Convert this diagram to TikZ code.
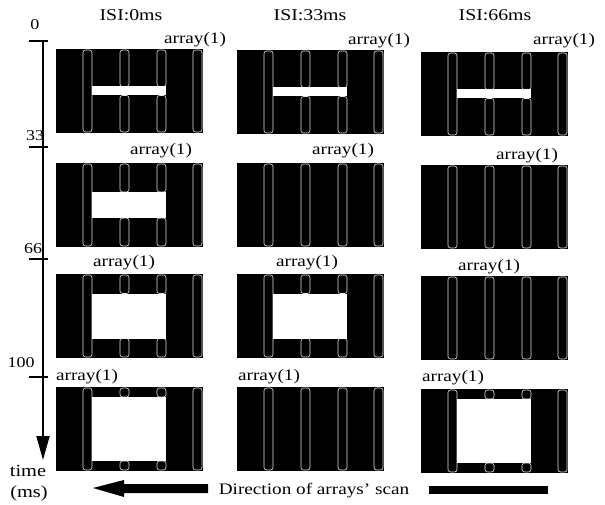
\documentclass[tikz,border=0pt]{standalone}
\usepackage{fontspec}
\setmainfont[FakeStretch=1.2]{Liberation Serif}
\usetikzlibrary{arrows.meta}
\tikzset{
  capsule/.style={draw=white!80!gray, line width=0.6pt, rounded corners=2.5pt},
  lbl/.style={font=\fontsize{16}{18}\selectfont, inner sep=0pt},
  hdr/.style={font=\fontsize{16.5}{19}\selectfont, inner sep=0pt},
  num/.style={font=\fontsize{15}{17}\selectfont, inner sep=0pt},
  axisline/.style={line width=1.8pt},
  tickline/.style={line width=1.2pt},
}
\newcommand\arraypanel[3]{% #1 x left, #2 y top, #3 slot height (0 = none)
  \begin{scope}[shift={(#1,#2)}]
    \fill[black] (0,0) rectangle (147,84);
    \draw[capsule] (27,1) rectangle (36,83);
    \draw[capsule] (137,1) rectangle (146,83);
    \ifdim #3pt>0pt
      \draw[capsule] (64,1) rectangle (73,{42-#3/2});
      \draw[capsule] (64,{42+#3/2}) rectangle (73,83);
      \draw[capsule] (101,1) rectangle (110,{42-#3/2});
      \draw[capsule] (101,{42+#3/2}) rectangle (110,83);
      \fill[white] (36,{42-#3/2}) rectangle (110,{42+#3/2});
    \else
      \draw[capsule] (64,1) rectangle (73,83);
      \draw[capsule] (101,1) rectangle (110,83);
    \fi
  \end{scope}}
\begin{document}
\begin{tikzpicture}[x=1pt,y=-1pt]
\useasboundingbox (0,0) rectangle (605,505);
\fill[white] (0,0) rectangle (605,505);

% headers
\node[hdr] (h1) at (131,15) {ISI:0ms};
\node[hdr] (h2) at (310,15) {ISI:33ms};
\node[hdr] (h3) at (495,15) {ISI:66ms};

% panels: column 1
\arraypanel{56}{49}{9}
\arraypanel{56}{163}{26}
\arraypanel{56}{274}{45}
\arraypanel{56}{387}{64}
% column 2
\arraypanel{237}{50}{9}
\arraypanel{237}{163}{0}
\arraypanel{237}{274}{45}
\arraypanel{237}{387}{0}
% column 3
\arraypanel{421}{52}{9}
\arraypanel{421}{165}{0}
\arraypanel{421}{276}{0}
\arraypanel{421}{389}{64}

% array(1) labels
\node[lbl] (a11) at (195,40) {array(1)};
\node[lbl] (a12) at (379,41) {array(1)};
\node[lbl] (a13) at (564,41) {array(1)};
\node[lbl] (a21) at (161,151) {array(1)};
\node[lbl] (a22) at (343,151) {array(1)};
\node[lbl] (a23) at (527,156) {array(1)};
\node[lbl] (a31) at (124,263) {array(1)};
\node[lbl] (a32) at (307,263) {array(1)};
\node[lbl] (a33) at (489,267) {array(1)};
\node[lbl] (a41) at (87,377) {array(1)};
\node[lbl] (a42) at (269,377) {array(1)};
\node[lbl] (a43) at (453,378) {array(1)};

% time axis
\coordinate (t0) at (43,41);
\coordinate (tend) at (43,460);
\draw[axisline, -{Triangle[width=13pt,length=24pt]}] (t0) -- (tend);
\draw[tickline] (29,41) -- (48,41);
\draw[tickline] (29,147) -- (48,147);
\draw[tickline] (29,259) -- (48,259);
\draw[tickline] (29,377) -- (48,377);
\node[num] (n0) at (35,25) {0};
\node[num] (n33) at (35,136) {33};
\node[num] (n66) at (33,249) {66};
\node[num] (n100) at (21,363) {100};
\node[lbl, font=\fontsize{17}{19}\selectfont] (time) at (28,471) {time};
\node[lbl, font=\fontsize{17}{19}\selectfont] (ms) at (29,493) {(ms)};

% direction arrow and bar
\fill[black] (93,488) -- (124,480) -- (124,484) -- (208,484) -- (208,493) -- (124,493) -- (124,497) -- cycle;
\node[lbl] (dir) at (314,491) {Direction of arrays' scan};
\fill[black] (429,486) rectangle (548,494);
\end{tikzpicture}
\end{document}
